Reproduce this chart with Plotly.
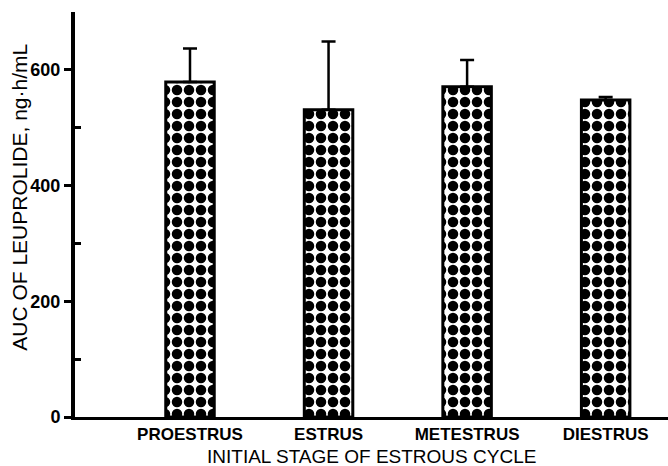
import plotly.graph_objects as go

# Leuprolide exposure by initial stage of the estrous cycle
stages = ["PROESTRUS", "ESTRUS", "METESTRUS", "DIESTRUS"]
auc_mean = [579, 531, 571, 548]
auc_sem = [58, 118, 46, 5]

y_tick_vals = [0, 200, 400, 600]
y_tick_text = ["0", "200", "400", "600"]

FONT = "Liberation Sans, Arial, sans-serif"

fig = go.Figure()
fig.add_trace(go.Bar(
    x=stages,
    y=auc_mean,
    width=0.35,
    marker=dict(
        color="white",
        line=dict(color="black", width=3),
        pattern=dict(shape=".", fgcolor="black", bgcolor="white",
                     fgopacity=1, size=12, solidity=0.6, fillmode="replace"),
    ),
    error_y=dict(type="data", symmetric=False, array=auc_sem,
                 arrayminus=[0] * len(auc_sem),
                 color="black", thickness=2.5, width=7),
    showlegend=False,
))

fig.update_layout(
    width=668, height=466,
    margin=dict(l=75, r=0, t=12, b=49),
    paper_bgcolor="white", plot_bgcolor="white",
    font=dict(family=FONT, color="black"),
    xaxis=dict(
        type="category",
        range=[-0.83, 3.45],
        showline=True, linecolor="black", linewidth=3,
        ticks="", showgrid=False, zeroline=False,
        tickfont=dict(size=17, family=FONT, weight="bold"),
    ),
    yaxis=dict(
        range=[0, 700],
        showline=True, linecolor="black", linewidth=4,
        tickvals=y_tick_vals, ticktext=y_tick_text,
        ticks="outside", ticklen=7, tickwidth=2.5, tickcolor="black",
        minor=dict(tickvals=[100, 300, 500], ticks="inside", ticklen=6,
                   tickwidth=2.5, tickcolor="black", showgrid=False),
        showgrid=False, zeroline=False,
        tickfont=dict(size=18, family=FONT, weight="bold"),
    ),
    annotations=[
        dict(text="INITIAL STAGE OF ESTROUS CYCLE", xref="paper", yref="paper",
             x=0.5, y=-0.097, xanchor="center", yanchor="middle",
             showarrow=False, font=dict(size=19, family=FONT)),
        dict(text="AUC OF LEUPROLIDE, ng·h/mL", xref="paper", yref="paper",
             x=-0.095, y=0.543, xanchor="center", yanchor="middle",
             textangle=-90, showarrow=False, font=dict(size=21, family=FONT)),
    ],
)

fig.write_html("out.html")
